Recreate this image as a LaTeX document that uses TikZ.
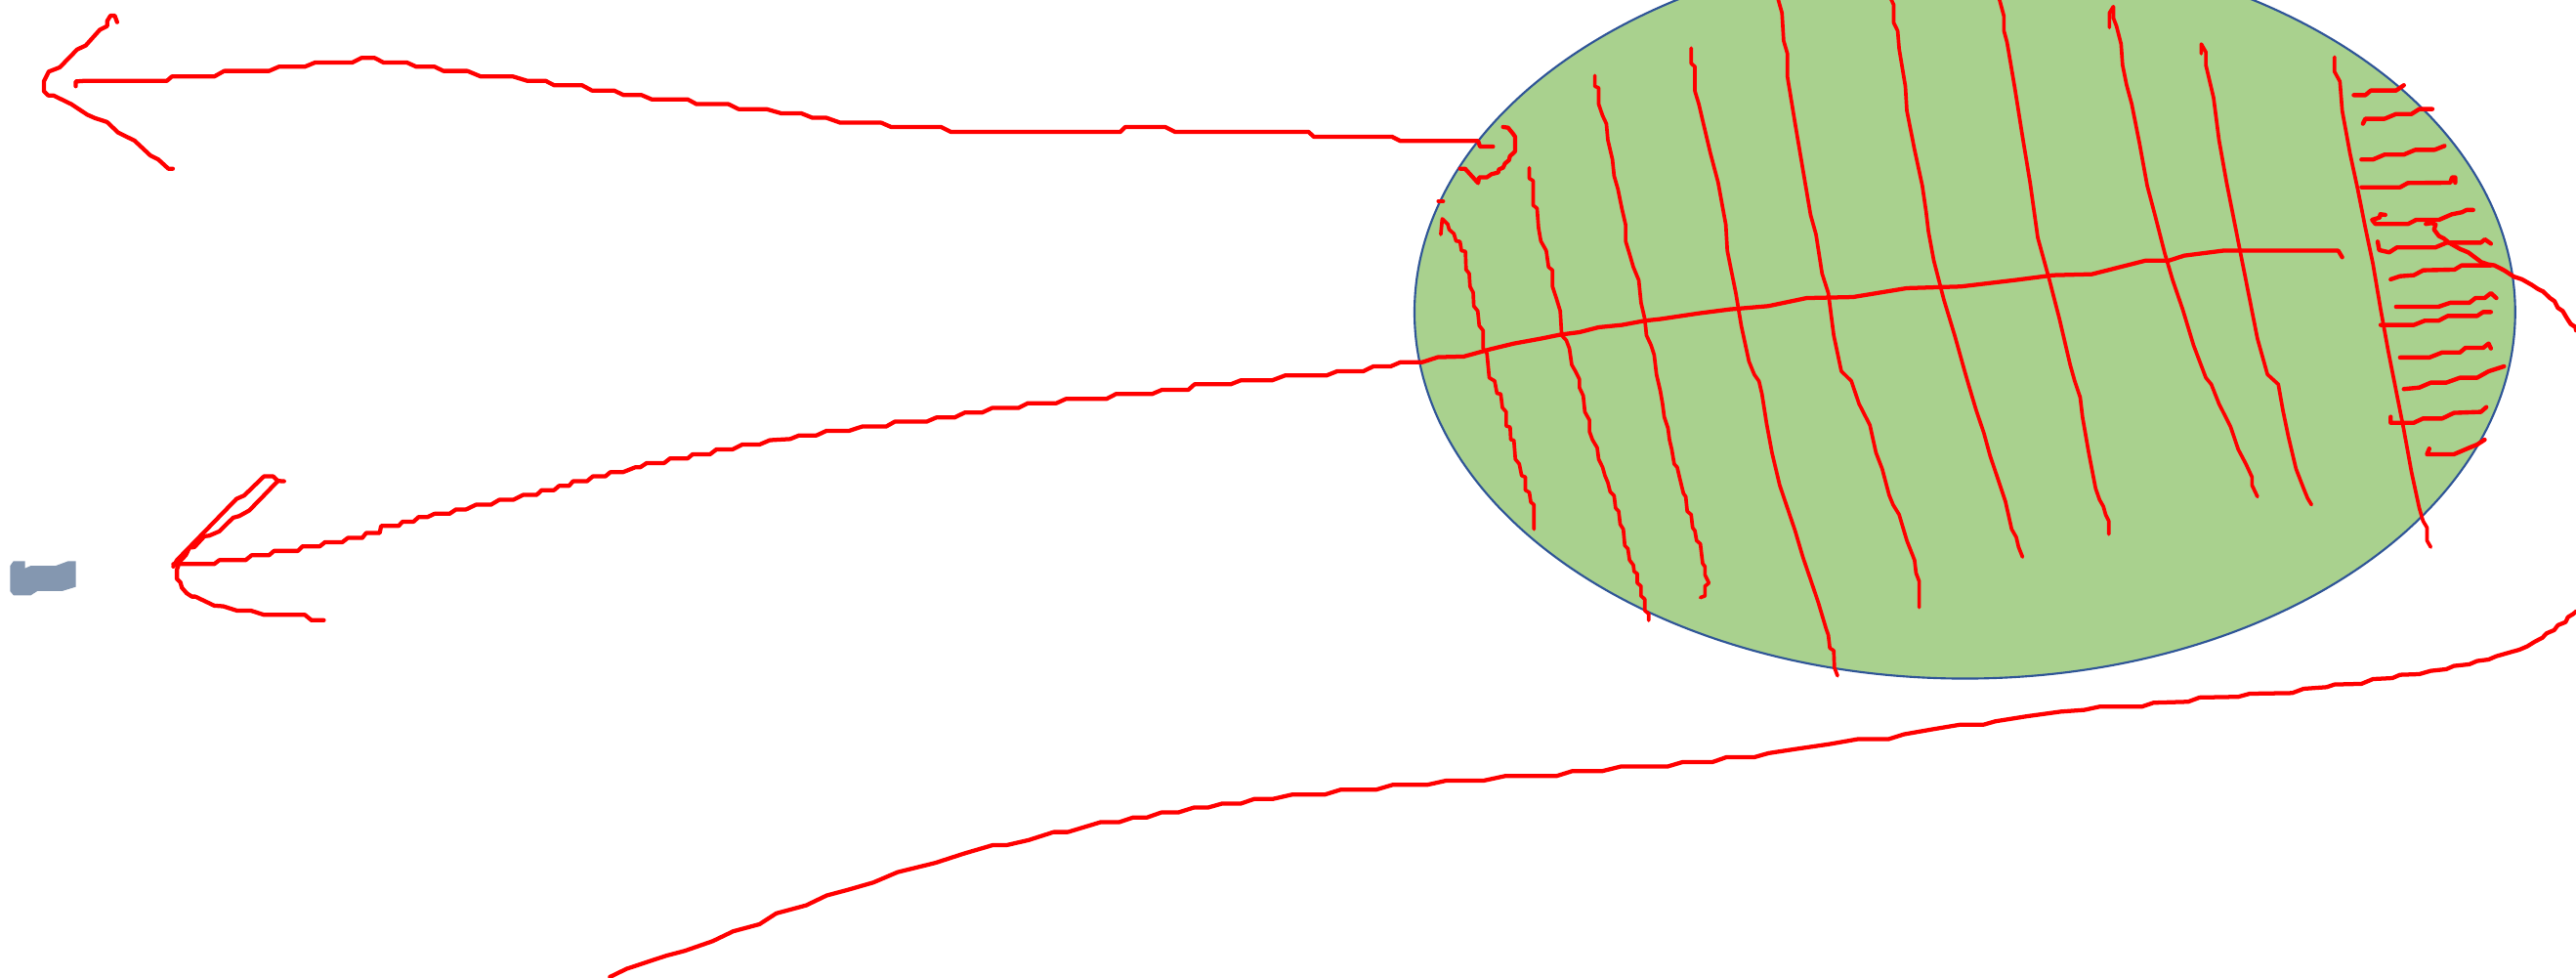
\documentclass[tikz,border=0pt]{standalone}
\usepackage{xcolor}
\definecolor{leaf}{HTML}{A9D18E}
\definecolor{rim}{HTML}{2F5597}
\definecolor{blob}{HTML}{8497B0}
\definecolor{ink}{HTML}{FF0000}
\begin{document}
\begin{tikzpicture}[x=0.01cm,y=-0.01cm,
  thickred/.style={draw=ink,line width=0.72pt,line join=round,line cap=round},
  midred/.style={draw=ink,line width=0.74pt,line join=round,line cap=round},
  thinred/.style={draw=ink,line width=0.62pt,line join=round,line cap=round}]
\useasboundingbox (0,0) rectangle (1568,595);
% ellipse
\fill[leaf] (1196,190) ellipse [x radius=335, y radius=223];
\draw[rim,line width=0.36pt] (1196,190) ellipse [x radius=335, y radius=223];
% blue blob
\fill[blob] (6.1,344.5)--(8.2,341.5)--(15.2,341.5)--(15.2,345.9)--(18.8,344.3)--(34,344.3)--(41.6,341.5)--(46.1,341.5)--(46.1,357.2)--(37.9,359.7)--(22.8,359.7)--(18.8,362.3)--(8.2,362.3)--(6.1,359.7)--cycle;
% top-left chevron
\draw[thickred] (71.3,13.5)--(69.8,9.5)--(67.3,9.5)--(65.2,12.9)--(65.2,15.9)--(60.7,18.2)--(52.2,27.7)--(47,30.1)--(36.4,41)--(29.7,43.6)--(26.7,49.6)--(26.7,55.5)--(29.4,58.1)--(32.5,58.1)--(43.4,63.4)--(53.1,69.8)--(57.6,71.8)--(65.2,74.3)--(71.9,80.7)--(81.9,85.6)--(91.6,94.7)--(96.4,97.1)--(102.5,102.7)--(105.2,102.7);
% top long line
\draw[thickred] (46.1,52.5)--(46.1,49.6)--(51.6,49.2)--(101.6,49.2)--(104.6,46.6)--(130.4,46.6)--(136.5,43.2)--(163.8,43.2)--(169.8,40.6)--(185.6,40.6)--(191.7,38.1)--(214.4,38.1)--(219.9,35.3)--(228.1,35.3)--(233.5,38.1)--(247.8,38.1)--(253.3,40.6)--(264.5,40.6)--(269.9,43.2)--(284.5,43.2)--(292.7,46.6)--(312.4,46.6)--(320.9,49.2)--(332.1,49.2)--(337.3,51.9)--(354.3,51.9)--(360.3,55.1)--(373.7,55.1)--(379.7,57.9)--(390.6,57.9)--(396.7,60.5)--(418.6,60.5)--(424,63.4)--(443.4,63.4)--(449.5,66.4)--(466.5,66.4)--(475.6,69)--(487.8,69)--(494.5,71.7)--(503,71.7)--(511.5,74.7)--(536.4,74.7)--(542.4,77.3)--(572.8,77.3)--(578.8,80.3)--(682,80.3)--(685,77.3)--(709.2,77.3)--(715.3,80.3)--(796.6,80.3)--(799.6,83.2)--(847.2,83.2)--(852.4,85.8)--(899.7,85.8)--(900.9,89.2)--(908.8,89.2);
% hook near ellipse edge
\draw[thickred] (914.9,77.3)--(917.9,77.7)--(920.9,81.3)--(922.2,83.2)--(922.2,92.2)--(919.1,95.1)--(918.5,97.5)--(916.1,99.5)--(914.9,102.1)--(912.4,103.1)--(911.9,105)--(907.9,106)--(904.9,108)--(900.3,108)--(899.7,111.4)--(891.8,102.7)--(888.8,102.7);
\draw[thickred] (875.6,122.5)--(878.4,122.5);
% lower-left looped chevron
\draw[thickred] (105.5,344.8)--(107.7,340.9)--(144,303.6)--(148.6,301.6)--(160.7,289.9)--(166.2,289.9)--(169.2,292.7)--(172.9,292.9);
\draw[thickred] (169.2,292.7)--(166.2,295.7)--(163.8,298.3)--(151.7,310.7)--(145.6,314.1)--(141.9,315.1)--(133.5,323.4)--(127.4,326)--(124.4,326.4)--(118.3,333)--(115.3,333.3)--(113.1,337.9)--(109.2,341.9)--(107.7,346.8)--(107.7,352.4)--(109.8,354.4)--(110.7,357.7)--(113.7,361.1)--(116.8,363.1)--(118.9,363.1)--(130.4,368.6)--(135.9,369)--(144.1,371.6)--(152.6,371.6)--(160.7,374.2)--(185.6,374.2)--(189.6,377.5)--(197.1,377.5);
% long lower line crossing ellipse
\draw[thickred] (105.5,343.3)--(130.4,343.3)--(133.5,340.9)--(149.5,340.9)--(153.2,337.9)--(163.8,337.9)--(166.8,335.3)--(181.4,335.3)--(184.1,332.5)--(194.7,332.5)--(197.8,330)--(208.4,330)--(211.7,327.4)--(220.5,327.4)--(222.9,324.4)--(231.1,324.4)--(232,320.1)--(242.6,320.1)--(245.1,317.5)--(251.7,317.5)--(254.8,314.7)--(260.2,314.7)--(264.5,312.7)--(273.6,312.7)--(277.5,310.1)--(283.6,310.1)--(289.7,307.2)--(298.8,307.2)--(303.9,304.2)--(312.4,304.2)--(318.5,301.2)--(326.7,301.2)--(329.7,298.3)--(337.3,298.3)--(340.3,295.7)--(346.4,295.7)--(348.8,292.9)--(357.3,292.9)--(360.9,289.9)--(368.5,289.9)--(371.5,287.4)--(379.1,287.4)--(386.7,284.4)--(389.7,284.4)--(393.7,281.8)--(404.3,281.8)--(407.9,279)--(418.6,279)--(421.6,276.5)--(432.2,276.5)--(436.1,273.5)--(445.9,273.5)--(451.9,270.5)--(462.5,270.5)--(468.6,267.9)--(481,267.2)--(486.4,265)--(497,265)--(503.1,262.2)--(516.9,262.2)--(524.8,259.6)--(539.4,259.6)--(544.7,256.6)--(564.1,256.6)--(570,254.1)--(581.1,254.1)--(587.2,251.1)--(597.8,251.1)--(603.9,248.3)--(619.9,248.3)--(625.7,245.4)--(643,245.4)--(648.8,242.8)--(673.5,242.8)--(679.3,239.8)--(701.3,239.8)--(707.4,237.2)--(723.4,237.2)--(727.1,233.9)--(749.1,233.9)--(755.2,231.5)--(774.3,231.5)--(782.3,228.5)--(807.5,228.5)--(814.1,225.9)--(830,225.9)--(835.9,223)--(846.5,223)--(852.6,220.4)--(865.9,220.4)--(875.2,217.4)--(891,217)--(907.4,212.5)--(921.5,209.1)--(937.9,206.1)--(949.7,203.7)--(961.4,202.2)--(973.1,199.2)--(987.2,197.8)--(1001.2,195.2)--(1010.6,194.2)--(1034.1,190.7)--(1052.8,188.3)--(1076.3,186.3)--(1099.7,181.4)--(1127.9,180.8)--(1160.7,175.4)--(1193.5,174.4)--(1226.4,170.5)--(1249.8,167.5)--(1273.3,166.9)--(1306.1,158.6)--(1320.2,158.6)--(1329.5,155.6)--(1353,152.6)--(1423.3,152.6)--(1425.7,156.6);
% bottom long curve
\draw[thickred] (371.2,594.6)--(381.5,589.6)--(405.4,581.7)--(416.8,578.7)--(433.8,572.8)--(446.3,566.8)--(462.3,562.5)--(472.5,555.9)--(490.7,551)--(503.2,545)--(516.3,541.5)--(531.6,537.1)--(546.4,530.8)--(569.2,525.2)--(587.4,519.3)--(604.5,514.3)--(613,514.3)--(626.1,511.3)--(641.4,506.4)--(650,506.4)--(669.9,500.4)--(681.2,500.4)--(689.8,497.5)--(698.3,497.5)--(706.8,494.5)--(717.1,494.5)--(726.7,491.5)--(735.3,491.5)--(743.8,489.1)--(755.2,489.1)--(763.7,486.2)--(775.1,486.2)--(786.5,483.6)--(806.4,483.6)--(816.1,480.6)--(837.7,480.6)--(847.9,477.6)--(869,477.6)--(880.3,475.1)--(903.1,475.1)--(916.2,472.3)--(947.4,472.3)--(957.1,469.3)--(975.3,469.3)--(986.7,466.5)--(1015.1,466.5)--(1024.2,463.8)--(1042.4,463.8)--(1051,460.8)--(1068,460.8)--(1076.5,458.4)--(1093.6,455.8)--(1113.5,452.9)--(1130.6,449.9)--(1149.4,449.9)--(1159,446.9)--(1176.1,443.9)--(1193.5,441)--(1207.6,441)--(1214.6,439)--(1233.4,436)--(1254.5,433.1)--(1268.6,432.1)--(1278,430.1)--(1303.7,430.1)--(1310.8,427.7)--(1331.9,427.1)--(1338.9,424.5)--(1362.4,424.1)--(1369.4,422.2)--(1395.2,421.8)--(1402.2,419.2)--(1416.3,418.2)--(1421,416.6)--(1437.4,416.2)--(1444.4,413.3)--(1456.2,412.7)--(1460.9,410.7)--(1472.6,410.3)--(1479.6,408.3)--(1489,407.3)--(1493.7,405.3)--(1503.1,404.3)--(1507.8,402.3)--(1514.8,401.4)--(1519.5,399.4)--(1526.5,397.4)--(1533.6,395.4)--(1538.3,393.4)--(1543,390.5)--(1547.6,388.1)--(1550,385.5)--(1554.7,383.5)--(1557,380.5)--(1561.7,378.6)--(1563.1,375.6)--(1566.4,373.6)--(1568,372.2);
% vertical strokes inside ellipse
\draw[thinred] (877,142.7)--(877.9,133.2)--(881.2,136.4)--(882.1,139.7)--(885,142.3)--(886.3,146.7)--(888.7,147)--(889.6,152.6)--(892,153)--(892.4,164.1)--(894.3,166.5)--(894.8,174.4)--(896.7,178)--(897.1,186.3)--(899.5,189.3)--(900.4,198.2)--(902.8,201.2)--(902.8,212.1)--(905.1,215)--(906.5,229.9)--(909.8,231.9)--(911.2,239.4)--(913.5,239.8)--(914.5,248.1)--(916.8,250.7)--(916.8,259.2)--(919.2,260)--(919.6,267.6)--(921.5,268)--(922.4,279.5)--(924.8,282.4)--(926.2,289.4)--(928.5,290.4)--(928.5,298.3)--(930.9,299.7)--(931.8,305.6)--(933.7,307.2)--(933.7,322.1);
\draw[thinred] (930.9,102.1)--(930.9,108.6)--(933.2,110)--(933.2,124.9)--(935.6,126.8)--(936.5,138.7)--(937.9,146.7)--(941.2,152.6)--(942.6,162.5)--(945,164.5)--(945,174.4)--(947.3,181.4)--(949.7,189.3)--(950.6,204.1)--(953.4,207.1)--(955.3,212.1)--(956.7,222)--(959,226)--(961.4,230.9)--(961.4,235.9)--(963.7,240.8)--(964.7,250.7)--(967.5,255.7)--(967.5,262.6)--(969.3,267.6)--(972.2,272.5)--(973.1,279.5)--(975.5,284.4)--(976.9,289.4)--(978.7,293.7)--(980.1,299.3)--(982.5,301.7)--(983.4,309.2)--(985.3,311.2)--(986.2,319.1)--(988.1,322.1)--(989,332)--(990.9,334)--(991.9,340.9)--(994.2,343.9)--(994.7,347.8)--(996.6,349.2)--(996.6,354.8)--(998.9,356.8)--(998.9,362.7)--(1001.2,364.7)--(1001.2,371.6)--(1003.6,373.6)--(1003.6,377.6);
\draw[thinred] (970.8,46)--(970.8,52.5)--(973.1,53.5)--(973.1,63.4)--(975.5,70.4)--(977.8,75.3)--(978.7,85.2)--(981.5,97.1)--(982.5,107)--(984.8,115)--(987.2,126.8)--(989.5,136.8)--(989.5,146.7)--(991.9,154.6)--(994.2,162.5)--(997.5,170.5)--(998.9,184.3)--(1001.2,194.2)--(1002.2,204.1)--(1005,210.1)--(1006.9,216)--(1008.3,227.9)--(1010.6,237.8)--(1012,245.8)--(1013,253.7)--(1015.3,260.6)--(1016.2,267.6)--(1017.6,273.5)--(1019.1,282.4)--(1020.9,284.4)--(1022.3,290.4)--(1024.7,300.3)--(1026.1,302.3)--(1027,311.2)--(1029.4,313.2)--(1030.3,321.1)--(1031.7,323.1)--(1032.7,329)--(1035,331)--(1036.4,342.9)--(1037.8,344.9)--(1037.8,349.8)--(1040.2,354.8)--(1037.8,356.8)--(1037.8,362.7)--(1035,363.7);
\draw[thinred] (1029.4,29.3)--(1029.4,38.6)--(1031.7,40.6)--(1031.7,55.5)--(1034.1,63.4)--(1036.4,73.3)--(1041.1,93.2)--(1045.8,111)--(1050.5,136.8)--(1051.4,152.6)--(1053.8,164.5)--(1056.6,178.4)--(1059.9,198.2)--(1064.6,220)--(1067.8,227.9)--(1070.7,232)--(1072.5,239.8)--(1075.3,257.7)--(1078.6,275.5)--(1083.3,295.3)--(1088,309.2)--(1092.7,323.1)--(1097.4,339)--(1102.1,352.8)--(1106.8,366.7)--(1111.5,382.5)--(1112.9,386.5)--(1113.8,394.4)--(1116.2,396)--(1116.6,406.3)--(1118.5,411.3);
\draw[thinred] (1081.9,-2)--(1084.7,7.9)--(1085.7,24.8)--(1088,32.7)--(1088,46.6)--(1092.7,75.3)--(1097.4,103.1)--(1102.1,130.8)--(1105.4,142.7)--(1109.1,166.5)--(1112.9,178.4)--(1116.2,204.1)--(1120.8,225.9)--(1126.9,231.9)--(1131.6,245.8)--(1138.2,258.7)--(1141.9,275.5)--(1145.7,285.4)--(1149.9,301.3)--(1152.3,307.2)--(1156,313.2)--(1160.7,329)--(1165.4,341)--(1166.3,348.8)--(1168.2,353.8)--(1168.2,369.6);
\draw[thinred] (1150.4,-2)--(1152.7,3)--(1152.7,13.9)--(1155.1,18.8)--(1156,29.7)--(1159.8,52.5)--(1160.7,67.4)--(1165.4,91.2)--(1170.1,113)--(1172.4,128.8)--(1173.8,140.7)--(1177.1,158.6)--(1183.2,182.3)--(1189.8,204.1)--(1195.9,225.9)--(1198.2,233.9)--(1202.9,249.7)--(1207.6,263.6)--(1211.4,277.5)--(1216.1,291.4)--(1220.7,305.2)--(1224.5,322.1)--(1227.3,327)--(1228.7,333)--(1231.1,339);
\draw[thinred] (1216.6,-2)--(1219.8,9.9)--(1219.8,18.8)--(1221.7,25.8)--(1226.4,53.5)--(1231.1,83.2)--(1235.7,111)--(1240.4,144.7)--(1247.5,170.5)--(1253.6,194.2)--(1260.1,222)--(1262.9,232)--(1266.2,241.8)--(1267.6,253.7)--(1271.4,275.5)--(1275.6,297.3)--(1278,304.2)--(1280.3,308.2)--(1281.7,313.2)--(1283.6,317.1)--(1283.6,325.1);
\draw[thinred] (1284,16.8)--(1284,7.9)--(1286.4,4)--(1286.4,10.9)--(1288.3,15.9)--(1291.1,26.8)--(1292,39.6)--(1294.4,51.5)--(1297.6,63.4)--(1302.3,87.2)--(1307,113)--(1311.7,130.8)--(1317.8,154.6)--(1322.5,170.5)--(1328.6,188.3)--(1335.2,210.1)--(1342.7,229.9)--(1346,233.9)--(1350.7,245.8)--(1357.7,259.6)--(1362.4,273.5)--(1367.1,282.4)--(1370.8,290.4)--(1370.8,295.3)--(1374.1,302.3);
\draw[thinred] (1339.9,32.7)--(1339.9,26.8)--(1342.7,31.7)--(1342.7,39.6)--(1347.4,59.5)--(1350.7,85.2)--(1355.3,111)--(1360,134.8)--(1364.7,158.6)--(1369.4,182.3)--(1374.1,206.1)--(1380.2,227.9)--(1386.8,233.9)--(1389.6,249.7)--(1392.9,265.6)--(1397.6,285.4)--(1402.2,297.3)--(1404.6,303.2)--(1407,307.2);
\draw[thinred] (1421,34.7)--(1421,43.6)--(1424.3,49.6)--(1425.7,67.4)--(1430.4,93.2)--(1435.1,115)--(1439.8,138.7)--(1444.4,160.5)--(1449.1,188.3)--(1453.8,214.1)--(1458.5,237.8)--(1463.2,261.6)--(1467.9,287.4)--(1472.6,309.2)--(1474.9,317.1)--(1477.3,321.1)--(1477.3,329)--(1479.6,333);
% short strokes on the right
\draw[midred] (1432.7,57.9)--(1439.8,57.9)--(1443.1,55.1)--(1458.5,55.1)--(1463.2,51.9);
\draw[midred] (1438.3,75.3)--(1439.8,72.3)--(1451.5,72.3)--(1458.5,69.4)--(1467.9,69.4)--(1472.6,66.4)--(1480.6,66.4);
\draw[midred] (1437.4,97.1)--(1444.4,97.1)--(1451.5,94.1)--(1463.2,94.1)--(1470.2,91.2)--(1481.9,91.2)--(1488,88.8);
\draw[midred] (1437.4,114)--(1460.9,114)--(1465.6,111.4)--(1491.5,111.2)--(1492.5,108)--(1494.5,108)--(1494.5,111.2);
\draw[midred] (1451.9,130.8)--(1448.9,130.4)--(1448.5,132.4)--(1443.9,133.8)--(1445.9,136.3)--(1465.8,136.3)--(1470.7,133.8)--(1484.6,133.8)--(1492.5,130.4)--(1498.5,129.2)--(1501.4,127.8)--(1505.4,127.8);
\draw[midred] (1447.3,147.1)--(1448.2,152.2)--(1454.3,153.6)--(1459,150.6)--(1482.4,150.6)--(1489.3,147.7)--(1510.1,147.7)--(1512.5,145.7)--(1516.2,148.3);
\draw[midred] (1455.2,170)--(1461,168.1)--(1469.3,167.5)--(1475,164.5)--(1494.1,164.1)--(1498.4,161.5)--(1516.2,161.5);
\draw[midred] (1458.5,186.7)--(1484.3,186.7)--(1491.4,184.3)--(1503.1,184.3)--(1506.8,181.4)--(1512.4,181.4)--(1516.2,178.4)--(1519.5,181.4);
\draw[midred] (1449.1,197.8)--(1469.3,197.8)--(1475.9,195.2)--(1484.3,195.2)--(1489.9,192.3)--(1507.8,192.3)--(1511.5,189.9)--(1516.2,189.9);
\draw[midred] (1460.9,217.6)--(1478.7,217.6)--(1486.6,214.5)--(1497.4,214.5)--(1500.7,211.7)--(1511.5,211.7)--(1514.8,209.1)--(1516.2,212.1);
\draw[midred] (1463.2,236.8)--(1472.6,235.9)--(1479.6,232.9)--(1489,232.9)--(1497.4,229.9)--(1507.8,229.9)--(1514.8,226)--(1524.2,223);
\draw[midred] (1455.2,253.7)--(1455.2,257.3)--(1469.3,257.3)--(1474.9,254.7)--(1486.6,254.7)--(1493.7,251.3)--(1510.1,250.7)--(1513.4,247.8);
\draw[midred] (1478.7,273.1)--(1477.3,276.5)--(1493.7,276.5)--(1498.4,274.5)--(1503.1,272.5)--(1507.8,270.6)--(1512.4,267.6);
% diagonal leaving the ellipse on the right
\draw[midred] (1476.6,136.3)--(1480.2,135.7)--(1482.6,136.7)--(1481.6,139.7)--(1484.6,143.7)--(1487.5,145.1)--(1490.5,147.6)--(1497.5,151.6)--(1502.4,153.6)--(1510.3,159.5)--(1514.3,160.9)--(1518.3,161.5)--(1524.2,164.5)--(1530.2,168.4)--(1535.1,170)--(1541.1,173.4)--(1545,176)--(1548,177.4)--(1552,181.3)--(1554.9,183.3)--(1556.9,187.3)--(1559.9,189.3)--(1562.8,194.2)--(1564.8,197.2)--(1567.8,199.2)--(1568,201.1);
\end{tikzpicture}
\end{document}
